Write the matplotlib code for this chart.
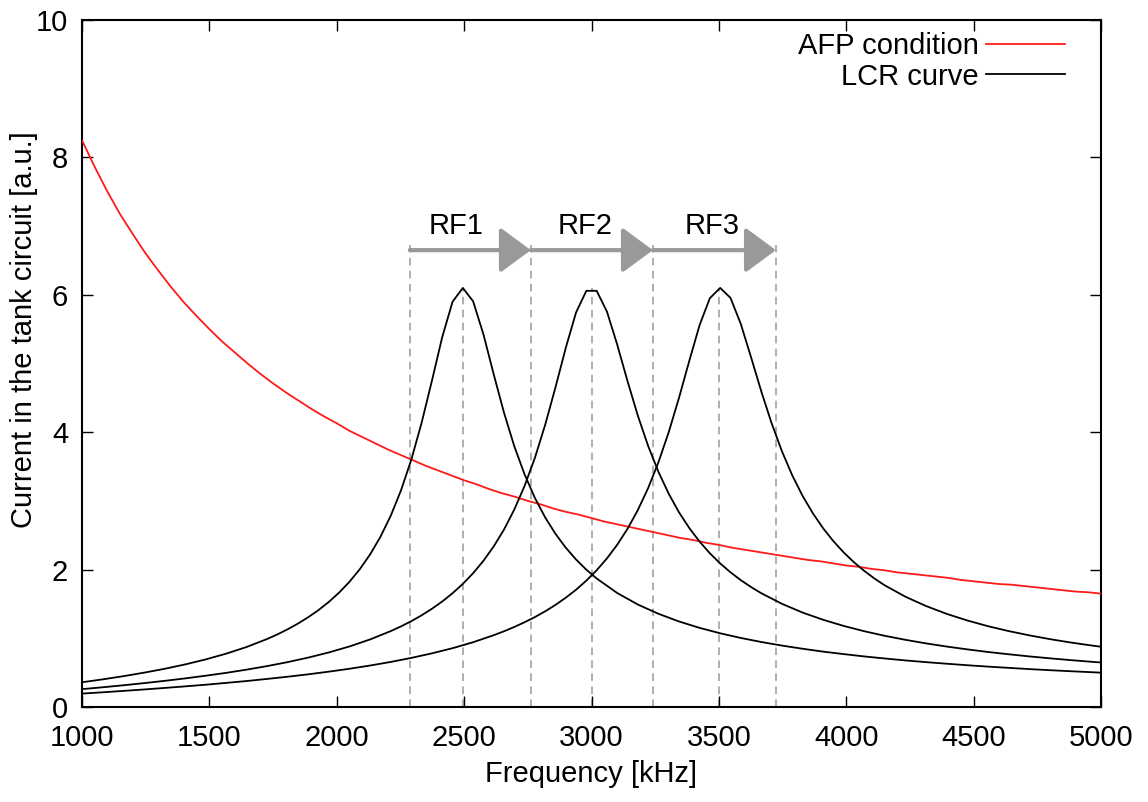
import matplotlib
matplotlib.use('Agg')
import matplotlib.pyplot as plt
from matplotlib.patches import FancyArrowPatch

plt.rcParams['font.family'] = ['Liberation Sans', 'DejaVu Sans']
plt.rcParams['font.size'] = 21

# AFP condition (red curve), sampled every 50 kHz
afp_freq = list(range(1000, 5001, 50))
afp_curr = [8.25, 7.86, 7.50, 7.17, 6.88, 6.60, 6.35, 6.11, 5.89, 5.69,
            5.50, 5.32, 5.16, 5.00, 4.85, 4.71, 4.58, 4.46, 4.34, 4.23,
            4.13, 4.02, 3.93, 3.84, 3.75, 3.67, 3.59, 3.51, 3.44, 3.37,
            3.30, 3.24, 3.17, 3.11, 3.06, 3.00, 2.95, 2.89, 2.84, 2.80,
            2.75, 2.70, 2.66, 2.62, 2.58, 2.54, 2.50, 2.46, 2.43, 2.39,
            2.36, 2.32, 2.29, 2.26, 2.23, 2.20, 2.17, 2.14, 2.12, 2.09,
            2.06, 2.04, 2.01, 1.99, 1.96, 1.94, 1.92, 1.90, 1.88, 1.85,
            1.83, 1.81, 1.79, 1.78, 1.76, 1.74, 1.72, 1.70, 1.68, 1.67,
            1.65]

# LCR resonance curves
f1 = [1000.0, 1080.8, 1161.6, 1242.4, 1323.2, 1404.0, 1484.8, 1565.7, 1646.5, 1727.3,
      1767.7, 1808.1, 1848.5, 1888.9, 1929.3, 1969.7, 2010.1, 2050.5, 2090.9, 2131.3,
      2171.7, 2212.1, 2252.5, 2292.9, 2333.3, 2373.7, 2414.1, 2454.5, 2494.9, 2535.4,
      2575.8, 2616.2, 2656.6, 2697.0, 2737.4, 2777.8, 2818.2, 2858.6, 2899.0, 2939.4,
      2979.8, 3020.2, 3101.0, 3181.8, 3262.6, 3343.4, 3424.2, 3505.1, 3585.9, 3666.7,
      3747.5, 3828.3, 3909.1, 3989.9, 4070.7, 4151.5, 4232.3, 4313.1, 4393.9, 4474.7,
      4555.6, 4636.4, 4717.2, 4798.0, 4878.8, 4959.6, 5000.0]
i1 = [0.360, 0.402, 0.448, 0.499, 0.555, 0.619, 0.692, 0.776, 0.874, 0.991,
      1.058, 1.133, 1.216, 1.309, 1.413, 1.532, 1.668, 1.825, 2.008, 2.223,
      2.479, 2.785, 3.156, 3.603, 4.139, 4.751, 5.385, 5.898, 6.100, 5.905,
      5.424, 4.842, 4.283, 3.795, 3.385, 3.043, 2.759, 2.521, 2.319, 2.147,
      1.999, 1.871, 1.659, 1.492, 1.357, 1.245, 1.152, 1.073, 1.005, 0.946,
      0.894, 0.848, 0.806, 0.770, 0.736, 0.706, 0.678, 0.653, 0.630, 0.608,
      0.588, 0.570, 0.552, 0.536, 0.521, 0.507, 0.500]

f2 = [1000.0, 1080.8, 1161.6, 1242.4, 1323.2, 1404.0, 1484.8, 1565.7, 1646.5, 1727.3,
      1808.1, 1888.9, 1969.7, 2050.5, 2131.3, 2212.1, 2252.5, 2292.9, 2333.3, 2373.7,
      2414.1, 2454.5, 2494.9, 2535.4, 2575.8, 2616.2, 2656.6, 2697.0, 2737.4, 2777.8,
      2818.2, 2858.6, 2899.0, 2939.4, 2979.8, 3020.2, 3060.6, 3101.0, 3141.4, 3181.8,
      3222.2, 3262.6, 3303.0, 3343.4, 3383.8, 3424.2, 3464.6, 3505.1, 3545.5, 3585.9,
      3626.3, 3666.7, 3747.5, 3828.3, 3909.1, 3989.9, 4070.7, 4151.5, 4232.3, 4313.1,
      4393.9, 4474.7, 4555.6, 4636.4, 4717.2, 4798.0, 4878.8, 4959.6, 5000.0]
i2 = [0.260, 0.287, 0.316, 0.347, 0.380, 0.416, 0.455, 0.497, 0.544, 0.596,
      0.654, 0.720, 0.795, 0.882, 0.984, 1.105, 1.174, 1.250, 1.335, 1.430,
      1.536, 1.656, 1.792, 1.948, 2.128, 2.338, 2.583, 2.875, 3.219, 3.627,
      4.108, 4.653, 5.228, 5.743, 6.058, 6.058, 5.756, 5.274, 4.743, 4.242,
      3.801, 3.424, 3.105, 2.834, 2.605, 2.408, 2.238, 2.090, 1.961, 1.847,
      1.746, 1.656, 1.502, 1.375, 1.270, 1.180, 1.103, 1.036, 0.978, 0.926,
      0.880, 0.839, 0.801, 0.768, 0.737, 0.709, 0.683, 0.659, 0.648]

f3 = [1000.0, 1080.8, 1161.6, 1242.4, 1323.2, 1404.0, 1484.8, 1565.7, 1646.5, 1727.3,
      1808.1, 1888.9, 1969.7, 2050.5, 2131.3, 2212.1, 2292.9, 2373.7, 2454.5, 2535.4,
      2616.2, 2656.6, 2697.0, 2737.4, 2777.8, 2818.2, 2858.6, 2899.0, 2939.4, 2979.8,
      3020.2, 3060.6, 3101.0, 3141.4, 3181.8, 3222.2, 3262.6, 3303.0, 3343.4, 3383.8,
      3424.2, 3464.6, 3505.1, 3545.5, 3585.9, 3626.3, 3666.7, 3707.1, 3747.5, 3787.9,
      3828.3, 3868.7, 3909.1, 3949.5, 3989.9, 4030.3, 4070.7, 4111.1, 4151.5, 4232.3,
      4313.1, 4393.9, 4474.7, 4555.6, 4636.4, 4717.2, 4798.0, 4878.8, 4959.6, 5000.0]
i3 = [0.195, 0.214, 0.234, 0.255, 0.277, 0.300, 0.324, 0.351, 0.378, 0.409,
      0.441, 0.476, 0.515, 0.557, 0.604, 0.656, 0.715, 0.781, 0.856, 0.943,
      1.045, 1.102, 1.165, 1.234, 1.309, 1.393, 1.486, 1.591, 1.707, 1.840,
      1.990, 2.163, 2.362, 2.594, 2.866, 3.185, 3.561, 3.999, 4.499, 5.038,
      5.557, 5.951, 6.100, 5.955, 5.578, 5.091, 4.591, 4.129, 3.723, 3.373,
      3.075, 2.821, 2.602, 2.414, 2.250, 2.107, 1.981, 1.869, 1.770, 1.605,
      1.470, 1.356, 1.260, 1.177, 1.106, 1.044, 0.989, 0.940, 0.897, 0.877]

# RF band annotations
band_edges = [2287, 2762, 3241, 3724]
band_top = 6.72
arrow_level = 6.65
peak_freqs = [2495, 3000, 3500]
peak_top = 6.1
band_labels = ['RF1', 'RF2', 'RF3']
label_freqs = [2470, 2975, 3475]
label_level = 7.0


def main():
    fig = plt.figure(figsize=(11.48, 8.02), dpi=100)
    ax = fig.add_axes([82 / 1148, 95 / 802, 1019 / 1148, 687 / 802])

    grey = '#999999'
    dash = (0, (5, 3.5))
    for f in band_edges:
        ax.plot([f, f], [0, band_top], color=grey, lw=1.1, ls=dash, zorder=1)
    for f in peak_freqs:
        ax.plot([f, f], [0, peak_top], color=grey, lw=1.1, ls=dash, zorder=1)

    lw = 1.3
    ax.plot(afp_freq, afp_curr, color='#ff1a1a', lw=lw, label='AFP condition', zorder=3)
    ax.plot(f1, i1, color='black', lw=lw, label='LCR curve', zorder=3)
    ax.plot(f2, i2, color='black', lw=lw, zorder=3)
    ax.plot(f3, i3, color='black', lw=lw, zorder=3)

    for a, b in zip(band_edges[:-1], band_edges[1:]):
        arr = FancyArrowPatch((a, arrow_level), (b, arrow_level),
                              arrowstyle='-|>,head_length=19,head_width=14',
                              mutation_scale=1, color=grey, lw=3,
                              shrinkA=0, shrinkB=0, zorder=4)
        ax.add_patch(arr)
    for lab, f in zip(band_labels, label_freqs):
        ax.text(f, label_level, lab, ha='center', va='center', fontsize=21)

    ax.set_xlim(1000, 5000)
    ax.set_ylim(0, 10)
    ax.set_xticks(range(1000, 5001, 500))
    ax.set_yticks(range(0, 11, 2))
    ax.tick_params(direction='in', length=8, width=1, top=True, right=True,
                   labelsize=21)
    ax.tick_params(axis='x', pad=12)
    ax.tick_params(axis='y', pad=10)
    for s in ax.spines.values():
        s.set_linewidth(1.5)
    ax.set_xlabel('Frequency [kHz]', fontsize=21, labelpad=6)
    ax.set_ylabel('Current in the tank circuit [a.u.]', fontsize=21)
    ax.yaxis.set_label_coords(-0.043, 0.55)

    ax.legend(loc='upper right', bbox_to_anchor=(0.9647, 0.982), frameon=False,
              markerfirst=False, handlelength=2.7, handletextpad=0.25,
              borderpad=0, borderaxespad=0, labelspacing=0.08, fontsize=21)

    fig.savefig('out.png', dpi=100)


if __name__ == '__main__':
    main()
